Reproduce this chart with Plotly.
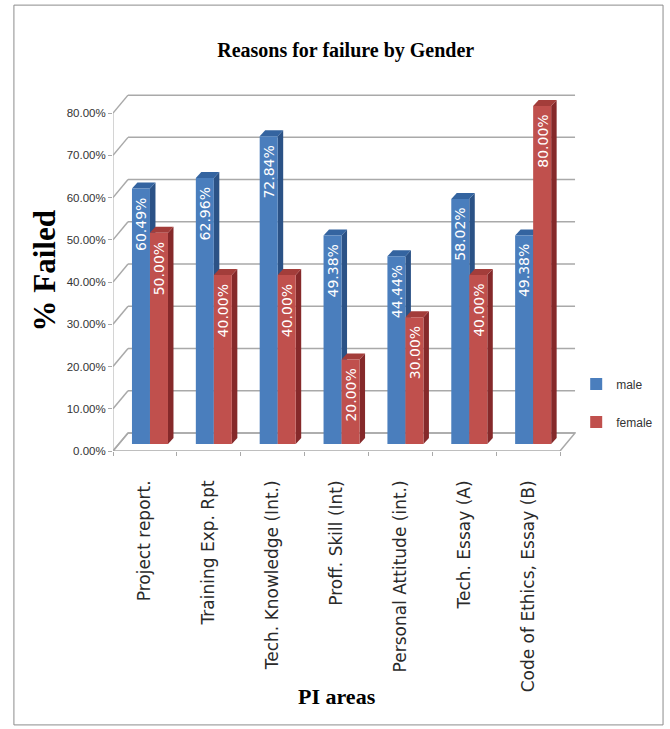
import plotly.graph_objects as go

# ---- data -------------------------------------------------------------
categories = [
    "Project report.",
    "Training Exp. Rpt",
    "Tech. Knowledge (Int.)",
    "Proff. Skill (Int)",
    "Personal Attitude (int.)",
    "Tech. Essay (A)",
    "Code of Ethics, Essay (B)",
]
male = [60.49, 62.96, 72.84, 49.38, 44.44, 58.02, 49.38]
female = [50.00, 40.00, 40.00, 20.00, 30.00, 40.00, 80.00]
y_ticks = [0, 10, 20, 30, 40, 50, 60, 70, 80]

# ---- pseudo-3D geometry (data units) -----------------------------------
WALL_DX, WALL_DY = 0.235, 4.26      # depth of floor / side wall
BAR_W = 0.282                       # width of a bar's front face
BAR_BASE = 1.66                     # bars stand a little behind the front edge
BAR_DX, BAR_DY = 0.086, 1.42        # depth of each bar
OFFSETS = {"male": -0.203, "female": 0.079}

COLORS = {
    "male": dict(front="#4A7EBD", top="#3464A0", side="#2B5286"),
    "female": dict(front="#C0504D", top="#A33D3A", side="#85292A"),
}
GRID = "#A9A9A9"

x_idx = list(range(len(categories)))
n = len(categories)
left, right = -0.5, n - 0.5

shapes = []


def poly(points, fill, line_color=None, width=0):
    d = "M " + " L ".join(f"{x},{y}" for x, y in points) + " Z"
    return dict(type="path", path=d, xref="x", yref="y", layer="below",
                fillcolor=fill, line=dict(color=line_color or fill, width=width))


def seg(x0, y0, x1, y1, color=GRID, width=1.5):
    return dict(type="line", x0=x0, y0=y0, x1=x1, y1=y1, xref="x", yref="y",
                layer="below", line=dict(color=color, width=width))


# floor
shapes.append(poly([(left, 0), (right, 0), (right + WALL_DX, WALL_DY),
                    (left + WALL_DX, WALL_DY)], "white", GRID, 1.5))
# back-wall gridlines and side-wall diagonals
for t in y_ticks:
    shapes.append(seg(left + WALL_DX, t + WALL_DY, right + WALL_DX, t + WALL_DY))
    shapes.append(seg(left, t, left + WALL_DX, t + WALL_DY))
# front value axis line
shapes.append(seg(left, 0, left, y_ticks[-1], width=1))

# side and top faces of the bars (male first so the female front covers it)
annotations = []
for i in x_idx:
    for name, vals in (("male", male), ("female", female)):
        v = vals[i]
        x0 = i + OFFSETS[name]
        x1 = x0 + BAR_W
        yb, yt = BAR_BASE, BAR_BASE + v
        c = COLORS[name]
        shapes.append(poly([(x1, yb), (x1 + BAR_DX, yb + BAR_DY),
                            (x1 + BAR_DX, yt + BAR_DY), (x1, yt)], c["side"]))
        shapes.append(poly([(x0, yt), (x1, yt), (x1 + BAR_DX, yt + BAR_DY),
                            (x0 + BAR_DX, yt + BAR_DY)], c["top"]))
        annotations.append(dict(
            x=x0 + BAR_W / 2, y=yt, xref="x", yref="y", text=f"{v:.2f}%",
            textangle=-90, showarrow=False, xanchor="center", yanchor="top",
            yshift=-7, font=dict(family="DejaVu Sans", size=14, color="white"),
        ))

# outer frame of the chart
shapes.append(dict(type="rect", xref="paper", yref="paper",
                   x0=-0.214, x1=1.188, y0=-0.763, y1=1.242,
                   line=dict(color="#8C8C8C", width=1), fillcolor="rgba(0,0,0,0)",
                   layer="below"))

fig = go.Figure()
for name, vals in (("male", male), ("female", female)):
    fig.add_trace(go.Bar(
        x=x_idx, y=vals, base=BAR_BASE, width=BAR_W, offset=OFFSETS[name],
        name=name, legendgroup=name,
        marker=dict(color=COLORS[name]["front"], line=dict(width=0)),
    ))

annotations.append(dict(
    x=-0.149, y=0.5, xref="paper", yref="paper", text="<b>% Failed</b>",
    textangle=-90, showarrow=False, xanchor="center", yanchor="middle",
    font=dict(family="Liberation Serif", size=31, color="black"),
))
annotations.append(dict(
    x=3, y=-0.685, xref="x", yref="paper", text="<b>PI areas</b>",
    showarrow=False, xanchor="center", yanchor="middle",
    font=dict(family="Liberation Serif", size=22, color="black"),
))

fig.update_layout(
    template="none",
    width=670, height=729,
    margin=dict(l=113, r=94, t=92, b=278),
    paper_bgcolor="white", plot_bgcolor="white",
    barmode="overlay",
    title=dict(text="<b>Reasons for failure by Gender</b>",
               xref="container", yref="container", x=0.516, y=0.931,
               xanchor="center", yanchor="middle",
               font=dict(family="Liberation Serif", size=20, color="black")),
    xaxis=dict(range=[left, right + 0.25], tickvals=x_idx, ticktext=categories,
               tickangle=-90, ticks="", showgrid=False, zeroline=False,
               showline=False, automargin=False, ticklabelstandoff=25,
               tickfont=dict(family="DejaVu Sans", size=17, color="#2A2A2A"),
               minor=dict(tickvals=[i - 0.5 for i in range(n + 1)],
                          ticks="outside", ticklen=4, tickcolor=GRID,
                          showgrid=False)),
    yaxis=dict(range=[0, 85], tickvals=y_ticks,
               ticktext=[f"{t:.2f}%" for t in y_ticks],
               ticks="outside", ticklen=4, tickcolor=GRID, showgrid=False,
               zeroline=False, showline=False, automargin=False,
               tickfont=dict(family="Liberation Sans", size=11.5, color="#333333")),
    legend=dict(xref="container", yref="container", x=0.86, y=0.493,
                xanchor="left", yanchor="top", tracegroupgap=19,
                bgcolor="rgba(0,0,0,0)",
                font=dict(family="Liberation Sans", size=12, color="#333333")),
    shapes=shapes,
    annotations=annotations,
)

fig.write_html("out.html")
